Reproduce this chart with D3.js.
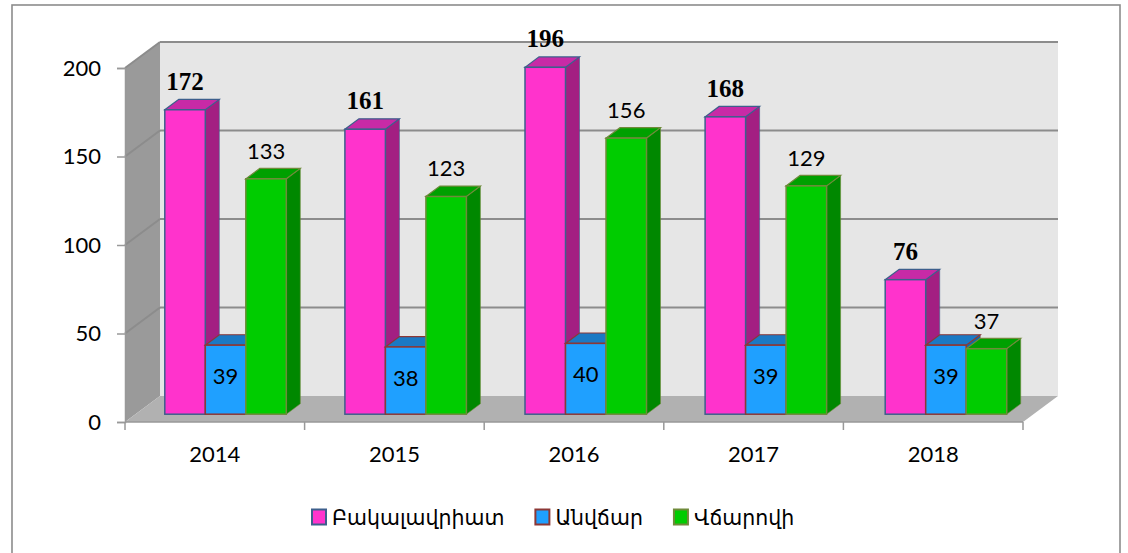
<!DOCTYPE html>
<html>
<head>
<meta charset="utf-8">
<script src="https://cdn.jsdelivr.net/npm/d3@7"></script>
<style>
  html, body { margin: 0; padding: 0; background: #fff; }
  svg { display: block; }
</style>
</head>
<body>
<svg id="chart" width="1128" height="553"></svg>
<script>
// ---- data ----
const years = ["2014", "2015", "2016", "2017", "2018"];
const seriesNames = ["Բակալավրիատ", "Անվճար", "Վճարովի"];
const bachelor = [172, 161, 196, 168, 76];
const free = [39, 38, 40, 39, 39];
const paid = [133, 123, 156, 129, 37];
const yTicks = [0, 50, 100, 150, 200];

// ---- styles ----
const faceColors = [
  { front: "#ff33cc", top: "#c82aa6", side: "#a31f82", stroke: "#3d5f8c", labelFont: "bold 25px 'Liberation Serif', serif" },
  { front: "#1fa0ff", top: "#1b79c4", side: "#1566a8", stroke: "#8c3836", labelFont: "22px Lato, 'Noto Sans', sans-serif" },
  { front: "#00cc00", top: "#00a000", side: "#008800", stroke: "#6f8a3a", labelFont: "22px Lato, 'Noto Sans', sans-serif" }
];
const seriesValues = [bachelor, free, paid];

const svg = d3.select("#chart");

// outer border
svg.append("rect").attr("x", 12).attr("y", 5).attr("width", 1108).attr("height", 560)
  .attr("fill", "none").attr("stroke", "#8c8c8c").attr("stroke-width", 1.6);

// geometry
const DX = 35, DY = -26;           // full depth of the 3D box
const xFront = d3.scaleBand().domain(years).range([125, 1023]);
const yFront = d3.scaleLinear().domain([0, 200]).range([422, 68]);
const x0 = 125, x1 = 1023;

// bar plane (depth fraction 0.3 .. 0.7)
const f0 = 0.3, fd = 0.4;
const bdx = fd * DX, bdy = fd * DY;
const xBar = d3.scaleBand().domain(years).range([125 + f0 * DX, 1023 + f0 * DX + 2.5]);
const yBar = v => yFront(v) + f0 * DY;
const bw = 40.5;

const poly = pts => pts.map(p => p.join(",")).join(" ");

// left wall
svg.append("polygon")
  .attr("points", poly([[x0, yFront(0)], [x0 + DX, yFront(0) + DY], [x0 + DX, yFront(200) + DY], [x0, yFront(200)]]))
  .attr("fill", "#9a9a9a");
// back wall
svg.append("polygon")
  .attr("points", poly([[x0 + DX, yFront(0) + DY], [x1 + DX, yFront(0) + DY], [x1 + DX, yFront(200) + DY], [x0 + DX, yFront(200) + DY]]))
  .attr("fill", "#e6e6e6");
// floor
svg.append("polygon")
  .attr("points", poly([[x0, yFront(0)], [x1, yFront(0)], [x1 + DX, yFront(0) + DY], [x0 + DX, yFront(0) + DY]]))
  .attr("fill", "#b1b1b1");

// gridlines (back wall + left wall diagonals)
const grid = svg.append("g");
yTicks.forEach(t => {
  if (t > 0) {
    grid.append("line").attr("x1", x0 + DX).attr("x2", x1 + DX)
      .attr("y1", yFront(t) + DY).attr("y2", yFront(t) + DY)
      .attr("stroke", "#8c8c8c").attr("stroke-width", 2);
    grid.append("line").attr("x1", x0).attr("x2", x0 + DX)
      .attr("y1", yFront(t)).attr("y2", yFront(t) + DY)
      .attr("stroke", "#8c8c8c").attr("stroke-width", 2);
  }
});
// floor edge line
svg.append("line").attr("x1", x0).attr("x2", x1).attr("y1", yFront(0)).attr("y2", yFront(0))
  .attr("stroke", "#999").attr("stroke-width", 1.5);

// value axis
const yAxis = d3.axisLeft(yFront).tickValues(yTicks).tickSize(8).tickPadding(16).tickFormat(d3.format("d"));
const gy = svg.append("g").attr("transform", `translate(${x0},0)`).call(yAxis);
gy.select(".domain").attr("stroke", "#999").attr("stroke-width", 1.5);
gy.selectAll(".tick line").attr("stroke", "#999").attr("stroke-width", 1.5);
gy.selectAll(".tick text").attr("fill", "#000")
  .style("font", "22px Lato, 'Noto Sans', sans-serif");

// category axis
const xAxis = d3.axisBottom(xFront).tickSize(0).tickPadding(24);
const gx = svg.append("g").attr("transform", `translate(0,${yFront(0)})`).call(xAxis);
gx.select(".domain").remove();
gx.selectAll(".tick text").attr("fill", "#000")
  .style("font", "22px Lato, 'Noto Sans', sans-serif");
// category boundary ticks
const bounds = years.map(y => xFront(y)).concat([x1]);
svg.append("g").selectAll("line").data(bounds).join("line")
  .attr("x1", d => d).attr("x2", d => d)
  .attr("y1", yFront(0)).attr("y2", yFront(0) + 8)
  .attr("stroke", "#999").attr("stroke-width", 1.5);

// bars
const bars = svg.append("g");
const labels = svg.append("g");
years.forEach((yr, i) => {
  const gLeft = xBar(yr) + xBar.bandwidth() / 2 - 1.5 * bw;
  seriesValues.forEach((vals, s) => {
    const v = vals[i];
    const c = faceColors[s];
    const L = gLeft + s * bw, R = L + bw;
    const T = yBar(v), B = yBar(0);
    // side
    bars.append("polygon")
      .attr("points", poly([[R, B], [R + bdx, B + bdy], [R + bdx, T + bdy], [R, T]]))
      .attr("fill", c.side).attr("stroke", c.stroke).attr("stroke-width", 1).attr("stroke-opacity", 0.6);
    // top
    bars.append("polygon")
      .attr("points", poly([[L, T], [R, T], [R + bdx, T + bdy], [L + bdx, T + bdy]]))
      .attr("fill", c.top).attr("stroke", c.stroke).attr("stroke-width", 1.2);
    // front
    bars.append("rect").attr("x", L).attr("y", T).attr("width", bw).attr("height", B - T)
      .attr("fill", c.front).attr("stroke", c.stroke).attr("stroke-width", 1.5);
    // label
    const ly = s === 1 ? T + 39 : T - 20;
    labels.append("text")
      .attr("x", L + bw / 2).attr("y", ly)
      .attr("text-anchor", "middle")
      .style("font", c.labelFont)
      .attr("fill", "#000")
      .text(v);
  });
});

// legend
const legend = svg.append("g");
let lx = 312;
seriesNames.forEach((name, s) => {
  const c = faceColors[s];
  legend.append("rect").attr("x", lx).attr("y", 509.5).attr("width", 14).attr("height", 15)
    .attr("fill", c.front).attr("stroke", c.stroke).attr("stroke-width", 2);
  const t = legend.append("text").attr("x", lx + 20).attr("y", 525)
    .style("font", "20.5px 'DejaVu Sans', sans-serif").attr("fill", "#000").text(name);
  lx += 20 + t.node().getComputedTextLength() + 31;
});
</script>
</body>
</html>
